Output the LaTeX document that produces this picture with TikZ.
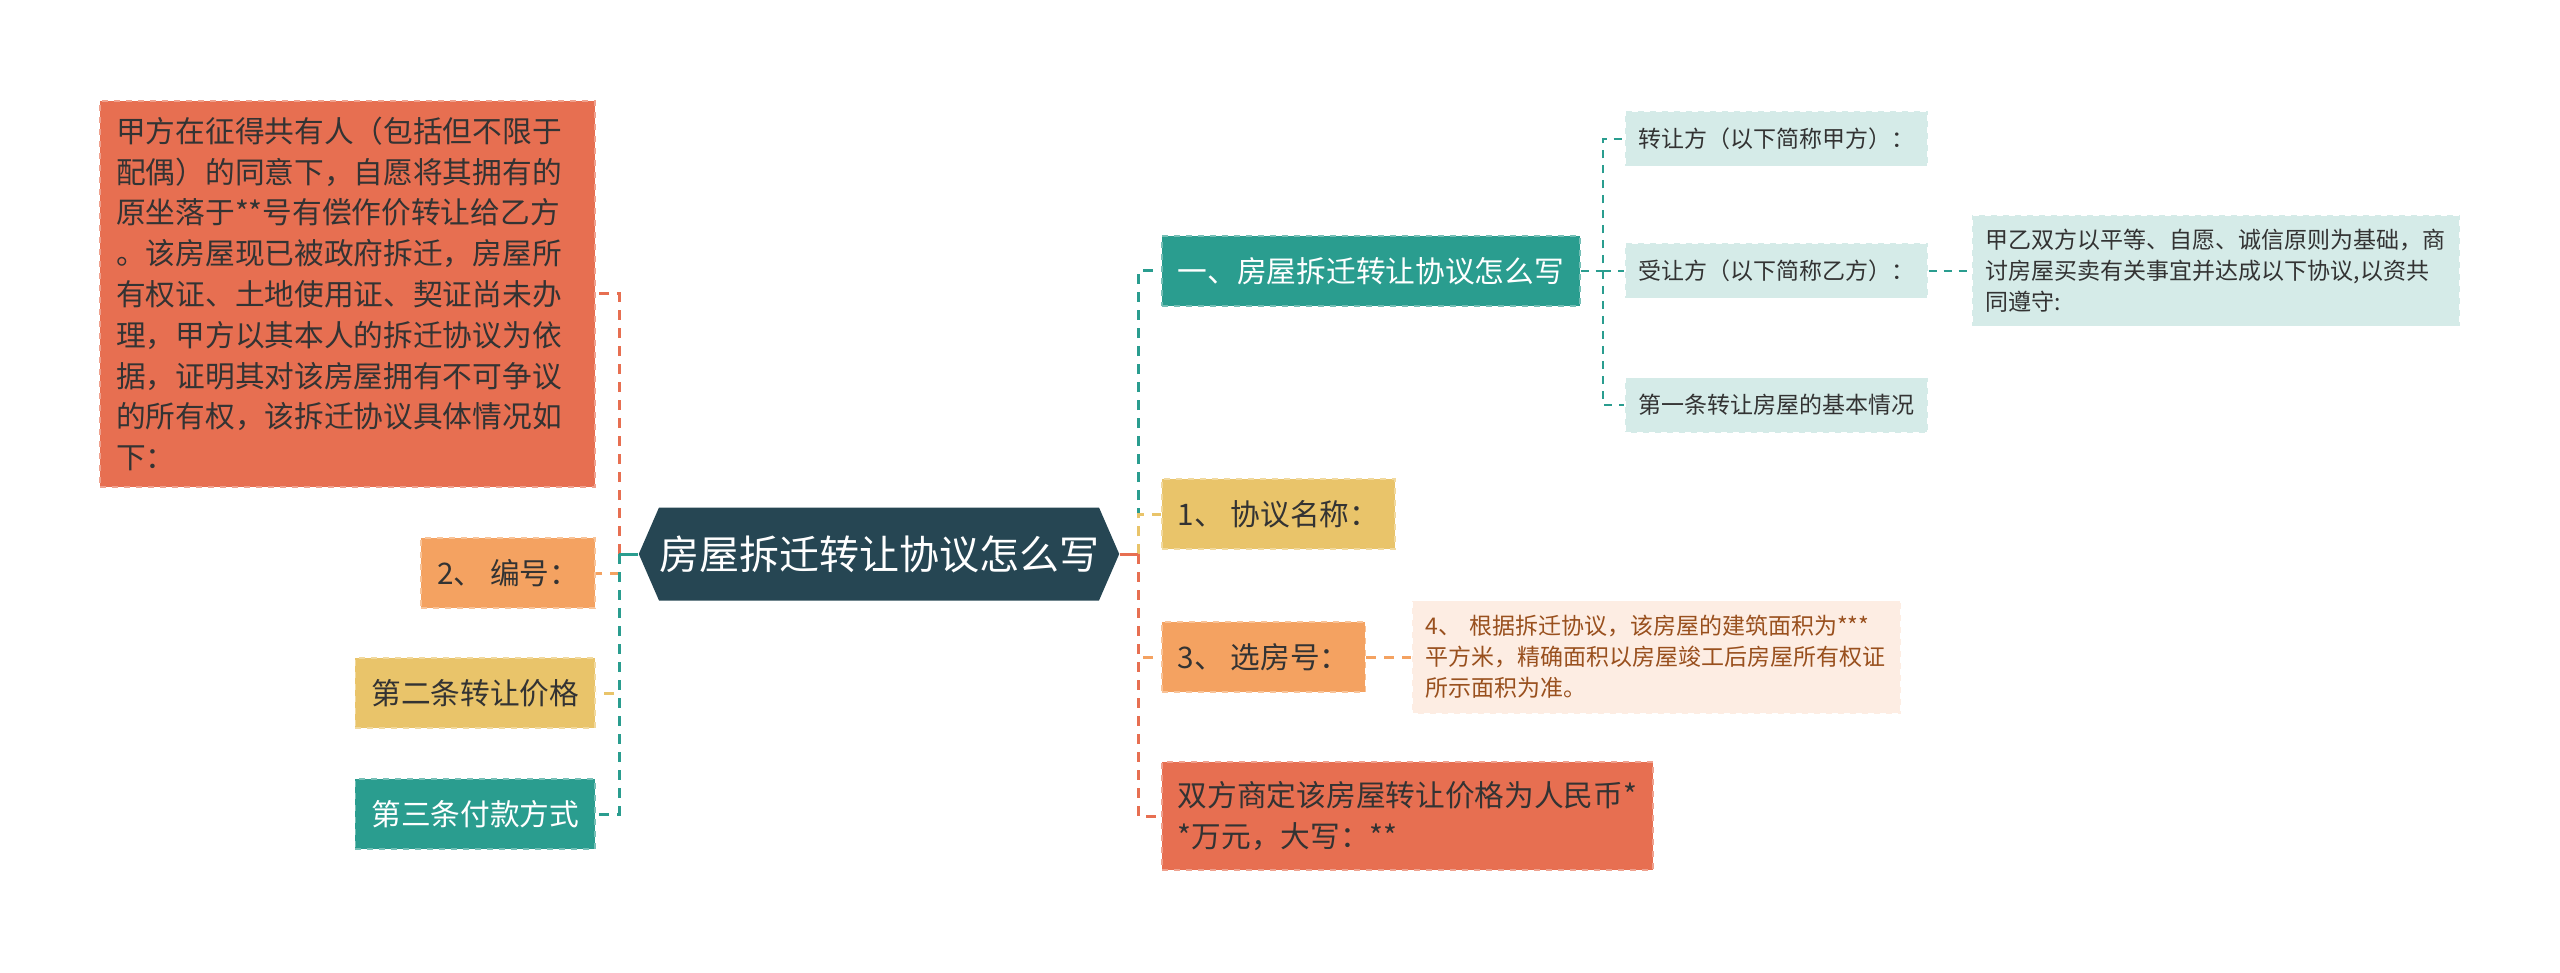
\documentclass[tikz,border=0pt]{standalone}
\usepackage{fontspec}
\setmainfont{Noto Sans CJK SC}
\usetikzlibrary{shapes.symbols}

\definecolor{rootc}{HTML}{264653}
\definecolor{tealc}{HTML}{2A9D8F}
\definecolor{yelc}{HTML}{E9C46A}
\definecolor{orac}{HTML}{F4A261}
\definecolor{redc}{HTML}{E76F51}
\definecolor{paletl}{HTML}{D5EBE8}
\definecolor{palepe}{HTML}{FDEDE3}
\definecolor{inkc}{HTML}{333333}
\definecolor{brownc}{HTML}{99501E}

\tikzset{
  topic/.style={signal, signal to=east and west, signal pointer angle=133,
    fill=rootc, text=white, minimum height=46.5pt, inner xsep=0pt,
    font=\fontsize{20pt}{24pt}\selectfont},
  branch/.style={rectangle, fill=#1, draw=#1!65!white, dashed, line width=0.8pt,
    inner xsep=8pt, minimum height=35pt, text=inkc,
    font=\fontsize{14.85pt}{20.4pt}\selectfont},
  leaf/.style={rectangle, fill=#1, draw=white, dashed, line width=0.8pt,
    inner xsep=7pt, minimum height=27.5pt, text=inkc, align=left,
    font=\fontsize{11.5pt}{15.5pt}\selectfont},
  conn/.style={draw=#1, line width=1.5pt, dash pattern=on 5pt off 4pt},
  thin conn/.style={draw=#1, line width=1.1pt, dash pattern=on 4pt off 3.5pt}
}

\begin{document}
\begin{tikzpicture}[x=0.5pt, y=-0.5pt]
    \useasboundingbox (0,0) rectangle (2560,973);
    \node[topic] (root) at (879,554) {房屋拆迁转让协议怎么写};
    \coordinate (jl) at (619,554);
    \coordinate (jr) at (1138,554);
    % left
    \node[branch=redc, anchor=east, text width=231.5pt, minimum height=193pt, align=left] (deal) at (596,294)
      {甲方在征得共有人（包括但不限于\\配偶）的同意下，自愿将其拥有的\\原坐落于**号有偿作价转让给乙方\\。该房屋现已被政府拆迁，房屋所\\有权证、土地使用证、契证尚未办\\理，甲方以其本人的拆迁协议为依\\据，证明其对该房屋拥有不可争议\\的所有权，该拆迁协议具体情况如\\下：};
    \node[branch=orac, anchor=east] (num) at (596,573) {2、 编号：};
    \node[branch=yelc, anchor=east] (price) at (596,693) {第二条转让价格};
    \node[branch=tealc, anchor=east, text=white] (pay) at (596,814) {第三条付款方式};
    % right
    \node[branch=tealc, anchor=west, text=white] (how) at (1161,271) {一、房屋拆迁转让协议怎么写};
    \node[branch=yelc, anchor=west] (name) at (1161,514) {1、 协议名称：};
    \node[branch=orac, anchor=west] (room) at (1161,657) {3、 选房号：};
    \node[branch=redc, anchor=west, align=left, minimum height=54pt] (sum) at (1161,816)
      {双方商定该房屋转让价格为人民币*\\*万元，大写：**};
    \node[leaf=paletl, anchor=west, text width=137.5pt] (seller) at (1624,139) {转让方（以下简称甲方）：};
    \node[leaf=paletl, anchor=west, text width=137.5pt] (buyer) at (1624,271) {受让方（以下简称乙方）：};
    \node[leaf=paletl, anchor=west, text width=137.5pt] (basic) at (1624,405) {第一条转让房屋的基本情况};
    \node[leaf=paletl, anchor=west, text width=230pt, minimum height=55.5pt] (terms) at (1971,271)
      {甲乙双方以平等、自愿、诚信原则为基础，商\\讨房屋买卖有关事宜并达成以下协议,以资共\\同遵守:};
    \node[leaf=palepe, anchor=west, text width=230.5pt, minimum height=56.5pt, text=brownc] (area) at (1411,657)
      {4、 根据拆迁协议，该房屋的建筑面积为***\\平方米，精确面积以房屋竣工后房屋所有权证\\所示面积为准。};
    % connectors
    \draw[conn=orac] (jl) |- (num.east);
    \draw[conn=yelc] (jl) |- (price.east);
    \draw[conn=tealc] (jl) |- (pay.east);
    \draw[conn=redc] (jl) |- (deal.east);
    \draw[tealc, line width=1.5pt] (root.west) -- (jl);
    \draw[conn=tealc] (jr) |- (how.west);
    \draw[conn=orac] (jr) |- (room.west);
    \draw[conn=redc] (jr) |- (sum.west);
    \draw[conn=yelc] (jr) |- (name.west);
    \draw[redc, line width=1.5pt] (root.east) -- (jr);
    \coordinate (j2) at (1603,271);
    \draw[thin conn=tealc] (how.east) -- (j2) |- (seller.west);
    \draw[thin conn=tealc] (j2) |- (buyer.west);
    \draw[thin conn=tealc] (j2) |- (basic.west);
    \draw[thin conn=tealc] (buyer.east) -- (terms.west);
    \draw[conn=orac] (room.east) -- (area.west);
\end{tikzpicture}
\end{document}
